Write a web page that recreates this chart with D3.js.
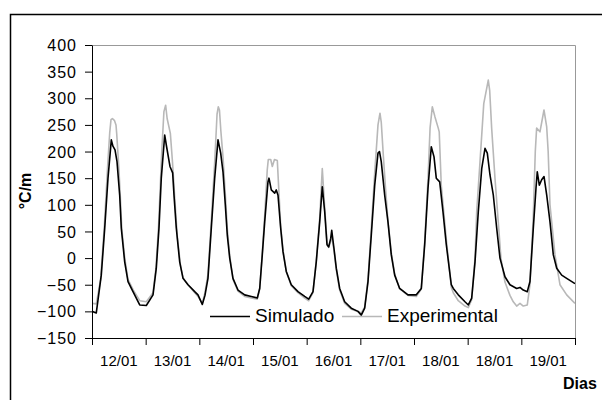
<!DOCTYPE html>
<html>
<head>
<meta charset="utf-8">
<script src="https://cdn.jsdelivr.net/npm/d3@7"></script>
<style>
  body { margin: 0; background: #fff; }
  svg text { font-family: "Liberation Sans", Arial, sans-serif; fill: #000; }
</style>
</head>
<body>
<svg id="chart" width="602" height="400"></svg>
<script>
// Day labels (one per day interval on the x axis)
const dayLabels = ["12/01", "13/01", "14/01", "15/01", "16/01", "17/01", "18/01", "18/01", "19/01"];
// Y axis ticks (°C/m)
const yTicks = [-150, -100, -50, 0, 50, 100, 150, 200, 250, 300, 350, 400];
const seriesNames = ["Simulado", "Experimental"];

// Simulated gradient: [elapsed days, °C/m]
const simulado = [
  [0, -100], [0.08, -103], [0.173, -32], [0.237, 56], [0.298, 150], [0.36, 222], [0.39, 210],
  [0.429, 203], [0.466, 181], [0.516, 118], [0.546, 56], [0.609, -7], [0.671, -44], [0.764, -63],
  [0.889, -88], [1.012, -89], [1.137, -69], [1.198, -19], [1.248, 56], [1.291, 150], [1.355, 231],
  [1.39, 209], [1.453, 172], [1.503, 160], [1.528, 118], [1.571, 56], [1.634, -7], [1.696, -38],
  [1.789, -50], [1.914, -63], [1.975, -69], [2.055, -87], [2.105, -70], [2.161, -38], [2.223, 56],
  [2.286, 150], [2.348, 222], [2.398, 197], [2.441, 162], [2.484, 100], [2.521, 43], [2.566, 0],
  [2.627, -38], [2.72, -60], [2.845, -69], [2.968, -72], [3.08, -75], [3.125, -57], [3.173, 6],
  [3.218, 68], [3.279, 143], [3.298, 150], [3.341, 128], [3.404, 122], [3.434, 128], [3.466, 118],
  [3.516, 56], [3.559, 12], [3.62, -25], [3.713, -50], [3.838, -63], [3.963, -72], [4.038, -77],
  [4.118, -63], [4.179, -7], [4.243, 68], [4.291, 134], [4.336, 87], [4.379, 25], [4.411, 21],
  [4.448, 37], [4.467, 52], [4.509, 18], [4.552, -19], [4.615, -57], [4.708, -82], [4.831, -94],
  [4.956, -100], [5.018, -107], [5.081, -94], [5.143, -44], [5.204, 43], [5.268, 137], [5.329, 197],
  [5.357, 200], [5.39, 181], [5.454, 118], [5.515, 68], [5.577, 6], [5.64, -32], [5.733, -57],
  [5.888, -69], [6.043, -69], [6.136, -57], [6.199, 25], [6.261, 131], [6.322, 209], [6.373, 190],
  [6.415, 150], [6.479, 143], [6.54, 87], [6.602, 25], [6.695, -50], [6.732, -57], [6.825, -69],
  [6.95, -82], [7.012, -88], [7.075, -75], [7.137, -7], [7.198, 87], [7.262, 168], [7.323, 206],
  [7.366, 197], [7.416, 156], [7.478, 118], [7.541, 56], [7.602, 0], [7.695, -35], [7.788, -50],
  [7.913, -57], [7.975, -55], [8.036, -60], [8.111, -63], [8.161, -44], [8.223, 56], [8.273, 131],
  [8.297, 162], [8.335, 137], [8.379, 147], [8.423, 153], [8.473, 118], [8.534, 68], [8.596, 6],
  [8.659, -19], [8.752, -32], [8.845, -38], [9, -48]
];

// Measured gradient: [elapsed days, °C/m]
const experimental = [
  [0, -85], [0.08, -86], [0.16, -40], [0.23, 60], [0.29, 170], [0.33, 235], [0.354, 260], [0.38, 262],
  [0.42, 258], [0.447, 250], [0.46, 234], [0.5, 170], [0.53, 110], [0.555, 55], [0.61, 0], [0.67, -40],
  [0.77, -60], [0.89, -80], [1.012, -82], [1.137, -65], [1.19, -20], [1.24, 60], [1.3, 200], [1.34, 275],
  [1.372, 287], [1.4, 262], [1.46, 234], [1.5, 180], [1.55, 100], [1.59, 40], [1.65, -15], [1.7, -38],
  [1.79, -50], [1.914, -65], [1.975, -72], [2.055, -85], [2.105, -65], [2.161, -30], [2.223, 70],
  [2.286, 180], [2.33, 270], [2.353, 284], [2.375, 278], [2.4, 240], [2.441, 190], [2.484, 120],
  [2.521, 55], [2.566, 5], [2.627, -40], [2.72, -62], [2.845, -72], [2.968, -75], [3.08, -77],
  [3.125, -57], [3.173, 10], [3.218, 80], [3.265, 165], [3.285, 185], [3.33, 185], [3.36, 172],
  [3.4, 185], [3.453, 183], [3.48, 130], [3.516, 60], [3.559, 15], [3.62, -25], [3.713, -52],
  [3.838, -65], [3.963, -75], [4.038, -80], [4.118, -65], [4.179, -5], [4.243, 75], [4.291, 168],
  [4.336, 95], [4.379, 30], [4.411, 20], [4.448, 32], [4.467, 40], [4.509, 15], [4.552, -22],
  [4.615, -60], [4.708, -85], [4.831, -96], [4.956, -100], [5.018, -103], [5.081, -92], [5.143, -40],
  [5.204, 55], [5.268, 160], [5.329, 250], [5.366, 272], [5.39, 255], [5.43, 190], [5.47, 130],
  [5.515, 70], [5.577, 10], [5.64, -30], [5.733, -58], [5.888, -70], [6.043, -72], [6.136, -58],
  [6.199, 30], [6.261, 150], [6.3, 245], [6.341, 284], [6.391, 265], [6.452, 244], [6.47, 237],
  [6.508, 137], [6.602, 35], [6.695, -55], [6.732, -65], [6.825, -80], [6.95, -90], [7.012, -93],
  [7.075, -78], [7.137, 0], [7.168, 87], [7.23, 181], [7.3, 290], [7.384, 334], [7.41, 315],
  [7.447, 244], [7.509, 150], [7.57, 68], [7.62, 0], [7.695, -45], [7.788, -70], [7.85, -82],
  [7.913, -90], [7.975, -85], [8.036, -90], [8.111, -88], [8.161, -50], [8.223, 80], [8.26, 200],
  [8.285, 244], [8.347, 237], [8.422, 278], [8.472, 247], [8.5, 200], [8.534, 100], [8.627, 6],
  [8.72, -50], [8.845, -69], [9, -85]
];

const svg = d3.select("#chart");
const plot = { left: 92, top: 45, right: 575, bottom: 338 };

// Outer chart frame
svg.append("rect")
  .attr("x", 10.5).attr("y", 14.5)
  .attr("width", 600).attr("height", 400)
  .attr("fill", "none").attr("stroke", "#000").attr("stroke-width", 1.5);

const x = d3.scaleLinear().domain([0, dayLabels.length]).range([plot.left, plot.right]);
const y = d3.scaleLinear().domain([-150, 400]).range([plot.bottom, plot.top]);

// Plot area border (top and right)
svg.append("path")
  .attr("d", `M${plot.left},${plot.top + 0.5}H${plot.right + 0.5}V${plot.bottom}`)
  .attr("fill", "none").attr("stroke", "#999").attr("stroke-width", 1);

svg.append("clipPath").attr("id", "plotClip")
  .append("rect")
  .attr("x", plot.left).attr("y", plot.top)
  .attr("width", plot.right - plot.left).attr("height", plot.bottom - plot.top);

const line = d3.line().x(d => x(d[0])).y(d => y(d[1]));
const lines = svg.append("g").attr("clip-path", "url(#plotClip)");

lines.append("path").datum(experimental)
  .attr("d", line).attr("fill", "none")
  .attr("stroke", "#b8b8b8").attr("stroke-width", 1.6).attr("stroke-linejoin", "round");
lines.append("path").datum(simulado)
  .attr("d", line).attr("fill", "none")
  .attr("stroke", "#000").attr("stroke-width", 1.6).attr("stroke-linejoin", "round");

// Y axis
const yAxis = svg.append("g")
  .attr("transform", `translate(${plot.left},0)`)
  .call(d3.axisLeft(y).tickValues(yTicks).tickSize(7).tickSizeOuter(0).tickPadding(8));
yAxis.selectAll("text")
  .style("font-size", "16px").style("letter-spacing", "1px")
  .attr("dy", "0.35em");
yAxis.selectAll("line, path").attr("stroke", "#000");

// X axis: ticks at day boundaries, labels centred in each day
const xAxis = svg.append("g")
  .attr("transform", `translate(0,${plot.bottom})`)
  .call(d3.axisBottom(x).tickValues(d3.range(0, dayLabels.length + 1)).tickFormat("").tickSize(7).tickSizeOuter(0));
xAxis.selectAll("line, path").attr("stroke", "#000");

svg.append("g").selectAll("text").data(dayLabels).join("text")
  .attr("x", (d, i) => x(i + 0.5))
  .attr("y", 366)
  .attr("text-anchor", "middle")
  .style("font-size", "15px")
  .text(d => d);

// Legend
const legend = [
  { name: seriesNames[0], color: "#000", x0: 210, x1: 250, tx: 255 },
  { name: seriesNames[1], color: "#b8b8b8", x0: 342, x1: 382, tx: 387 }
];
const lg = svg.append("g");
legend.forEach(l => {
  lg.append("line")
    .attr("x1", l.x0).attr("x2", l.x1).attr("y1", 316.5).attr("y2", 316.5)
    .attr("stroke", l.color).attr("stroke-width", 1.6);
  lg.append("text")
    .attr("x", l.tx).attr("y", 321.5)
    .style("font-size", "19px")
    .text(l.name);
});

// Axis titles
svg.append("text")
  .attr("x", 563).attr("y", 389)
  .style("font-size", "16px").style("font-weight", "bold")
  .text("Dias");

svg.append("text")
  .attr("transform", "translate(31,191) rotate(-90)")
  .attr("text-anchor", "middle")
  .style("font-size", "16px").style("font-weight", "bold")
  .text("°C/m");
</script>
</body>
</html>
